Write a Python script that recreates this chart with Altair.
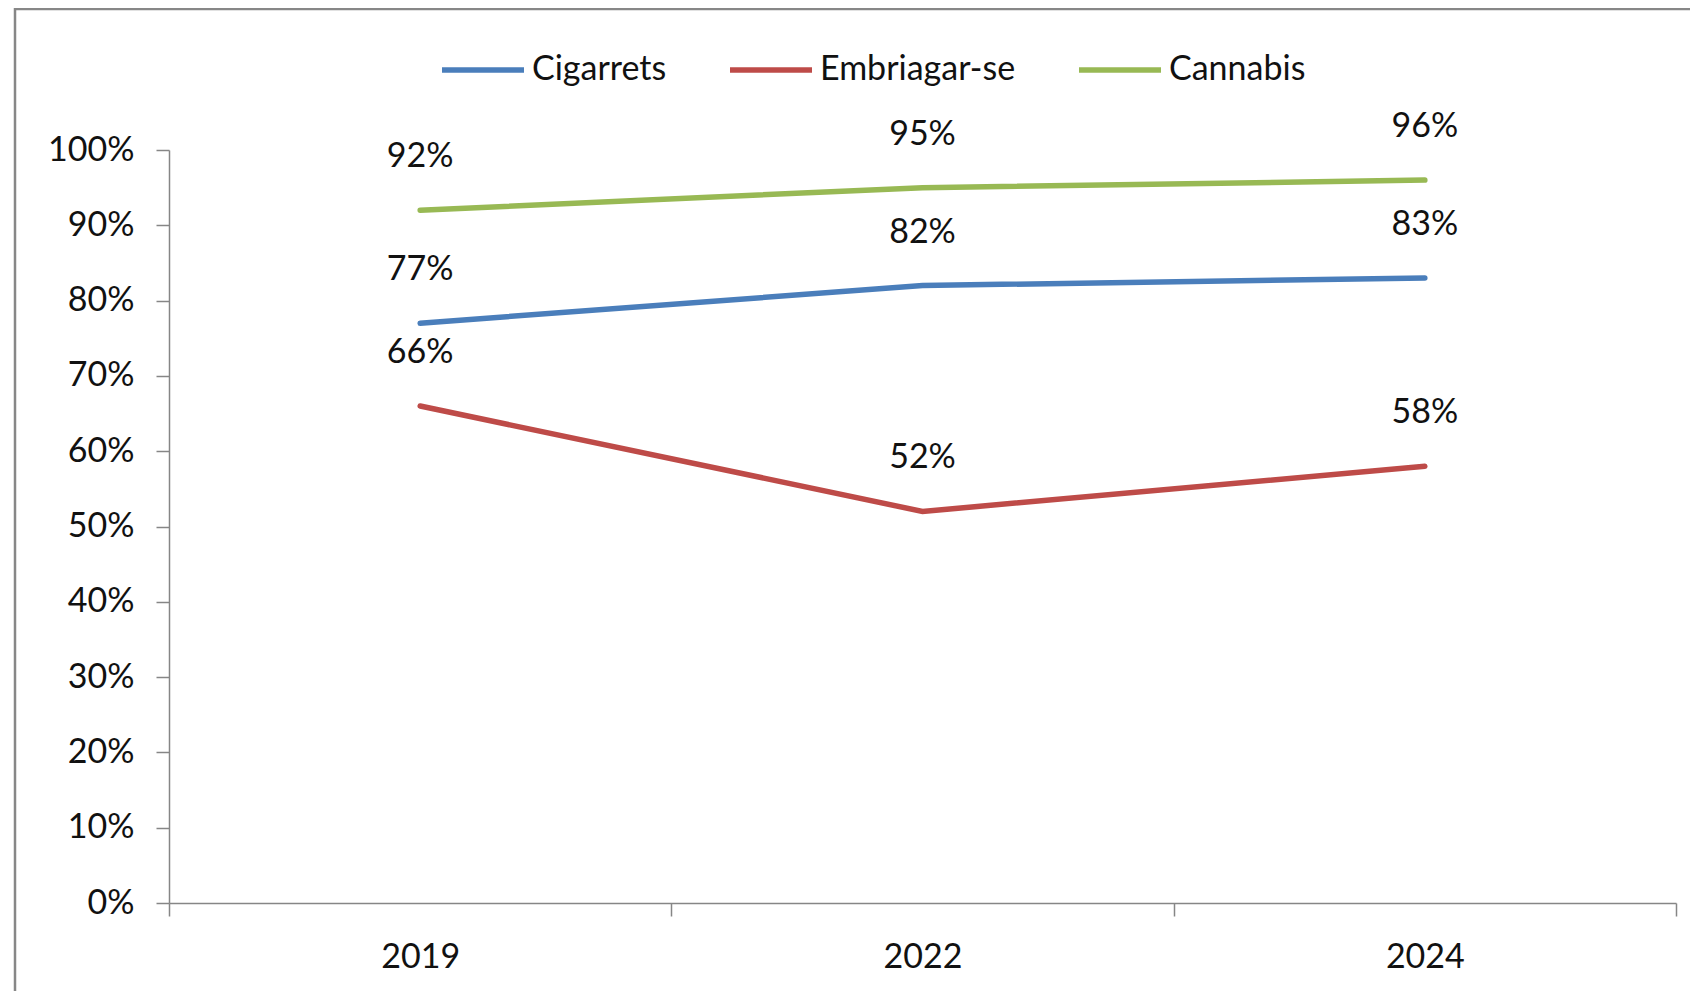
import altair as alt
import pandas as pd

years = ["2019", "2022", "2024"]
series = ["Cigarrets", "Embriagar-se", "Cannabis"]
cigarrets = [77, 82, 83]
embriagar = [66, 52, 58]
cannabis = [92, 95, 96]
colors = ["#4A7EBB", "#BE4B48", "#98B954"]
y_ticks = list(range(0, 101, 10))

rows = []
for name, vals in zip(series, [cigarrets, embriagar, cannabis]):
    for yr, v in zip(years, vals):
        rows.append({"year": yr, "series": name, "value": v})
df = pd.DataFrame(rows)

FONT = "Lato"
W, H = 1507, 753

x_enc = alt.X(
    "year:N",
    sort=years,
    bandPosition=0.5,
    scale=alt.Scale(type="band", paddingInner=0, paddingOuter=0),
    axis=alt.Axis(
        title=None,
        labelAngle=0,
        tickBand="extent",
        tickSize=13,
        labelPadding=24,
        labelFontSize=34,
        labelFont=FONT,
        labelColor="#111111",
        domainColor="#868686",
        tickColor="#868686",
        domainWidth=1.5,
        tickWidth=1.5,
    ),
)
y_enc = alt.Y(
    "value:Q",
    scale=alt.Scale(domain=[0, 100], nice=False),
    axis=alt.Axis(
        title=None,
        values=y_ticks,
        labelExpr="datum.value + '%'",
        grid=False,
        tickSize=13,
        labelPadding=22,
        labelFontSize=34,
        labelFont=FONT,
        labelColor="#111111",
        domainColor="#868686",
        tickColor="#868686",
        domainWidth=1.5,
        tickWidth=1.5,
    ),
)
color_enc = alt.Color(
    "series:N",
    scale=alt.Scale(domain=series, range=colors),
    legend=alt.Legend(
        title=None,
        orient="none",
        direction="horizontal",
        legendX=270,
        legendY=-124,
        symbolType="stroke",
        symbolStrokeWidth=5.5,
        symbolSize=6724,
        labelFontSize=34,
        labelFont=FONT,
        labelColor="#111111",
        labelOffset=5,
        labelLimit=0,
        columnPadding=52,
    ),
)

base = alt.Chart(df)

lines = base.mark_line(strokeWidth=5.5, strokeCap="round").encode(
    x=x_enc, y=y_enc, color=color_enc, detail="series:N"
)

labels = base.transform_calculate(lab="datum.value + '%'").mark_text(
    dy=-53, fontSize=34, font=FONT, color="#111111"
).encode(x=x_enc, y=y_enc, text="lab:N")

one = pd.DataFrame({"a": [0]})
frame_top = alt.Chart(one).mark_rule(color="#878787", strokeWidth=2.5).encode(
    x=alt.value(-155), x2=alt.value(W + 300), y=alt.value(-141)
)
frame_left = alt.Chart(one).mark_rule(color="#878787", strokeWidth=2.5).encode(
    x=alt.value(-154), y=alt.value(-142), y2=alt.value(H + 400)
)

chart = alt.layer(frame_top, frame_left, lines, labels).properties(
    width=W,
    height=H,
    autosize=alt.AutoSizeParams(type="none"),
    padding={"left": 161, "top": 142, "right": 14, "bottom": 88},
    background="white",
).configure_view(stroke=None)

chart.save("out.html", embed_options={"renderer": "svg", "actions": False})
